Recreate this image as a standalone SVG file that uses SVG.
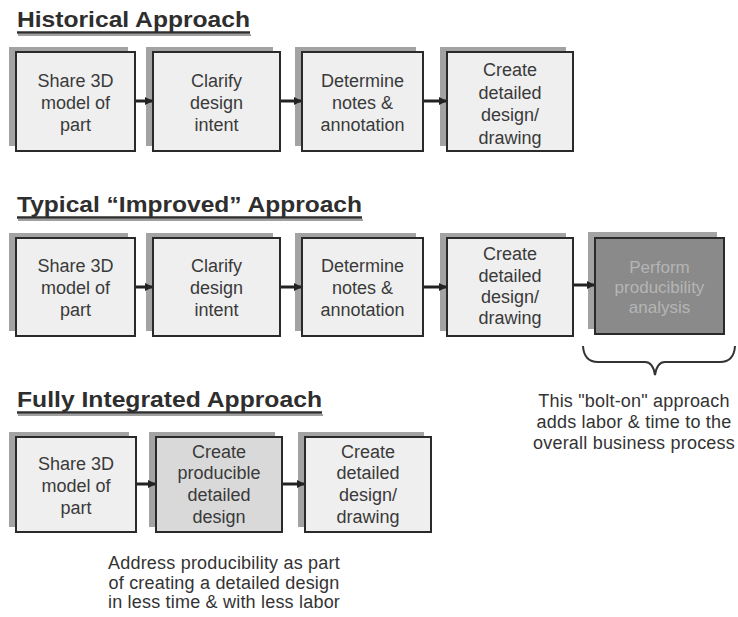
<svg xmlns="http://www.w3.org/2000/svg" width="738" height="617" viewBox="0 0 738 617">
  <defs>
    <style>
      .title{font-family:"Liberation Sans",Arial,sans-serif;font-weight:bold;font-size:22px;fill:#2e2e2e}
      .uline{stroke:#2e2e2e;stroke-width:2.5}
      .ushadow{stroke:#a0a0a0;stroke-width:2}
      .shadow{fill:#a3a3a3}
      .box{fill:#efefef;stroke:#2a2a2a;stroke-width:2}
      .box2{fill:#d9d9d9;stroke:#2a2a2a;stroke-width:2}
      .box3{fill:#8a8a8a;stroke:#2a2a2a;stroke-width:2}
      .lbl{font-family:"Liberation Sans",Arial,sans-serif;font-size:18px;fill:#3a3a3a;text-anchor:middle}
      .lbl3{font-family:"Liberation Sans",Arial,sans-serif;font-size:17px;fill:#b5b5b5;text-anchor:middle}
      .note{font-family:"Liberation Sans",Arial,sans-serif;font-size:18px;fill:#333;text-anchor:middle;letter-spacing:0.2px}
      .conn{stroke:#222;stroke-width:3;fill:none;marker-end:url(#ah)}
      .brace{stroke:#333;stroke-width:2;fill:none}
    </style>
    <marker id="ah" viewBox="0 0 8 8" refX="7" refY="4" markerWidth="8" markerHeight="8" markerUnits="userSpaceOnUse" orient="auto">
      <path d="M0,0 L8,4 L0,8 z" fill="#222"/>
    </marker>
  </defs>
  <rect width="738" height="617" fill="#ffffff"/>

  <!-- Titles -->
  <g id="title-historical">
    <line class="ushadow" x1="18" y1="35" x2="251" y2="35"/>
    <line class="uline" x1="17" y1="32.5" x2="250" y2="32.5"/>
    <text class="title" x="17" y="27" textLength="233" lengthAdjust="spacingAndGlyphs">Historical Approach</text>
  </g>
  <g id="title-improved">
    <line class="ushadow" x1="18" y1="220" x2="363" y2="220"/>
    <line class="uline" x1="17" y1="217.5" x2="362" y2="217.5"/>
    <text class="title" x="17" y="212" textLength="345" lengthAdjust="spacingAndGlyphs">Typical “Improved” Approach</text>
  </g>
  <g id="title-integrated">
    <line class="ushadow" x1="18" y1="415" x2="323" y2="415"/>
    <line class="uline" x1="17" y1="412.5" x2="322" y2="412.5"/>
    <text class="title" x="17" y="407" textLength="305" lengthAdjust="spacingAndGlyphs">Fully Integrated Approach</text>
  </g>

  <!-- Row 1: Historical -->
  <g id="h1">
    <rect class="shadow" x="9" y="47" width="119" height="99"/>
    <rect class="box" x="16" y="52" width="119" height="99"/>
    <text class="lbl" x="75.5" y="86.5">Share 3D</text>
    <text class="lbl" x="75.5" y="108.5">model of</text>
    <text class="lbl" x="75.5" y="130.5">part</text>
  </g>
  <g id="h2">
    <rect class="shadow" x="146" y="47" width="127" height="99"/>
    <rect class="box" x="153" y="52" width="127" height="99"/>
    <text class="lbl" x="216.5" y="86.5">Clarify</text>
    <text class="lbl" x="216.5" y="108.5">design</text>
    <text class="lbl" x="216.5" y="130.5">intent</text>
  </g>
  <g id="h3">
    <rect class="shadow" x="295" y="47" width="121" height="99"/>
    <rect class="box" x="302" y="52" width="121" height="99"/>
    <text class="lbl" x="362.5" y="86.5">Determine</text>
    <text class="lbl" x="362.5" y="108.5">notes &amp;</text>
    <text class="lbl" x="362.5" y="130.5">annotation</text>
  </g>
  <g id="h4">
    <rect class="shadow" x="440" y="47" width="126" height="99"/>
    <rect class="box" x="447" y="52" width="126" height="99"/>
    <text class="lbl" x="510" y="76">Create</text>
    <text class="lbl" x="510" y="98.5">detailed</text>
    <text class="lbl" x="510" y="121">design/</text>
    <text class="lbl" x="510" y="143.5">drawing</text>
  </g>

  <!-- Row 2: Typical Improved -->
  <g id="i1">
    <rect class="shadow" x="9" y="233" width="119" height="98"/>
    <rect class="box" x="16" y="238" width="119" height="98"/>
    <text class="lbl" x="75.5" y="271.5">Share 3D</text>
    <text class="lbl" x="75.5" y="293.5">model of</text>
    <text class="lbl" x="75.5" y="315.5">part</text>
  </g>
  <g id="i2">
    <rect class="shadow" x="146" y="233" width="127" height="98"/>
    <rect class="box" x="153" y="238" width="127" height="98"/>
    <text class="lbl" x="216.5" y="271.5">Clarify</text>
    <text class="lbl" x="216.5" y="293.5">design</text>
    <text class="lbl" x="216.5" y="315.5">intent</text>
  </g>
  <g id="i3">
    <rect class="shadow" x="295" y="233" width="121" height="98"/>
    <rect class="box" x="302" y="238" width="121" height="98"/>
    <text class="lbl" x="362.5" y="271.5">Determine</text>
    <text class="lbl" x="362.5" y="293.5">notes &amp;</text>
    <text class="lbl" x="362.5" y="315.5">annotation</text>
  </g>
  <g id="i4">
    <rect class="shadow" x="440" y="233" width="126" height="98"/>
    <rect class="box" x="447" y="238" width="126" height="98"/>
    <text class="lbl" x="510" y="259.5">Create</text>
    <text class="lbl" x="510" y="281.5">detailed</text>
    <text class="lbl" x="510" y="303">design/</text>
    <text class="lbl" x="510" y="324">drawing</text>
  </g>
  <g id="i5">
    <rect class="shadow" x="588" y="232" width="129" height="97"/>
    <rect class="box3" x="595" y="238" width="129" height="96"/>
    <text class="lbl3" x="659.5" y="273">Perform</text>
    <text class="lbl3" x="659.5" y="293">producibility</text>
    <text class="lbl3" x="659.5" y="313">analysis</text>
  </g>

  <!-- Row 3: Fully Integrated -->
  <g id="f1">
    <rect class="shadow" x="9" y="432" width="120" height="95"/>
    <rect class="box" x="16" y="437" width="120" height="95"/>
    <text class="lbl" x="76" y="469.5">Share 3D</text>
    <text class="lbl" x="76" y="491.5">model of</text>
    <text class="lbl" x="76" y="513.5">part</text>
  </g>
  <g id="f2">
    <rect class="shadow" x="149" y="432" width="126" height="95"/>
    <rect class="box2" x="156" y="437" width="126" height="95"/>
    <text class="lbl" x="219" y="458">Create</text>
    <text class="lbl" x="219" y="479">producible</text>
    <text class="lbl" x="219" y="501">detailed</text>
    <text class="lbl" x="219" y="523">design</text>
  </g>
  <g id="f3">
    <rect class="shadow" x="298" y="432" width="126" height="95"/>
    <rect class="box" x="305" y="437" width="126" height="95"/>
    <text class="lbl" x="368" y="458">Create</text>
    <text class="lbl" x="368" y="479">detailed</text>
    <text class="lbl" x="368" y="501">design/</text>
    <text class="lbl" x="368" y="523">drawing</text>
  </g>

  <!-- Connectors -->
  <g id="connectors">
    <line class="conn" x1="136" y1="101" x2="152" y2="101"/>
    <line class="conn" x1="281" y1="101" x2="301" y2="101"/>
    <line class="conn" x1="424" y1="101" x2="446" y2="101"/>

    <line class="conn" x1="136" y1="287" x2="152" y2="287"/>
    <line class="conn" x1="281" y1="287" x2="301" y2="287"/>
    <line class="conn" x1="424" y1="287" x2="446" y2="287"/>
    <line class="conn" x1="574" y1="285" x2="594" y2="285"/>

    <line class="conn" x1="137" y1="484" x2="155" y2="484"/>
    <line class="conn" x1="283" y1="484" x2="304" y2="484"/>
  </g>

  <!-- Brace and annotations -->
  <path class="brace" d="M583,346 Q584,362 598,362 L645,362 Q653,362 655,375 Q657,362 665,362 L720,362 Q734,362 735,346"/>
  <g id="note-bolton">
    <text class="note" x="634" y="407">This "bolt-on" approach</text>
    <text class="note" x="634" y="428">adds labor &amp; time to the</text>
    <text class="note" x="634" y="449">overall business process</text>
  </g>
  <g id="note-integrated">
    <text class="note" x="224" y="569">Address producibility as part</text>
    <text class="note" x="224" y="589">of creating a detailed design</text>
    <text class="note" x="224" y="608">in less time &amp; with less labor</text>
  </g>
</svg>
